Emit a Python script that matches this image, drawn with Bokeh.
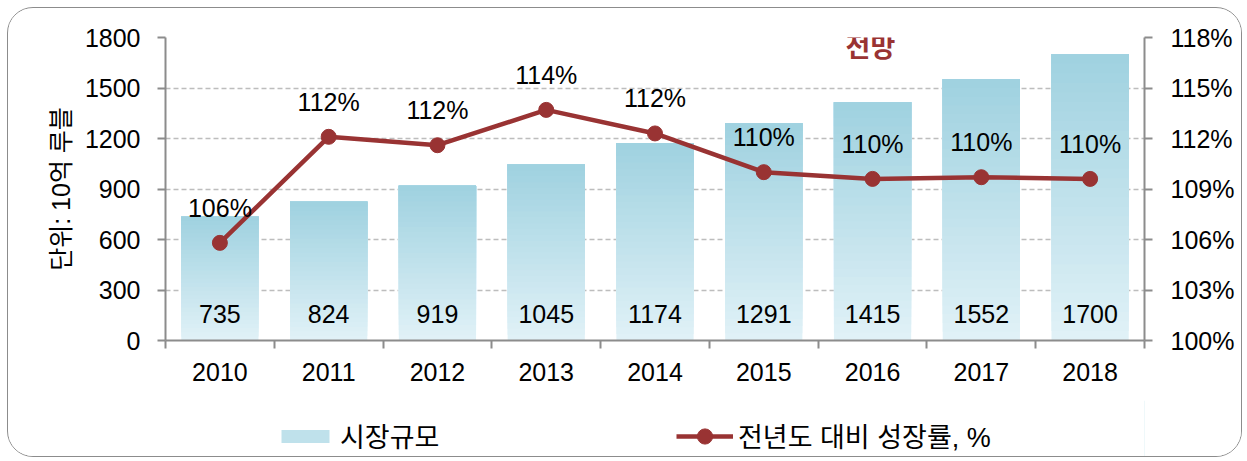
from bokeh.plotting import figure
from bokeh.layouts import column
from bokeh.models import (Range1d, LinearAxis, FixedTicker, SingleIntervalTicker,
                          PrintfTickFormatter, Legend, LegendItem, Label)
from bokeh.core.properties import value
from bokeh.embed import file_html
from bokeh.resources import INLINE

# ---- data ----
years = ["2010", "2011", "2012", "2013", "2014", "2015", "2016", "2017", "2018"]
market = [735, 824, 919, 1045, 1174, 1291, 1415, 1552, 1700]
growth = [105.8, 112.1, 111.6, 113.7, 112.3, 110.0, 109.6, 109.7, 109.6]
pct_ticks = [100, 103, 106, 109, 112, 115, 118]
left_label = "단위: 10억 루블"
bar_name = "시장규모"
line_name = "전년도 대비 성장률, %"
note = "전망"

FONT = "'Liberation Sans', 'Noto Sans CJK KR', sans-serif"
KFONT = "'Noto Sans CJK KR', sans-serif"
RED = "#993333"
GRAY = "#8c8c8c"
TOP = (160, 210, 224)
BOT = (224, 241, 247)

xs = [i + 0.5 for i in range(len(years))]

p = figure(frame_width=981, frame_height=303, output_backend="svg",
           toolbar_location=None, x_range=Range1d(0, len(years)),
           y_range=Range1d(0, 1800), min_border_left=157, min_border_right=97,
           min_border_top=29, min_border_bottom=60)
p.extra_y_ranges = {"pct": Range1d(100, 118)}
p.outline_line_color = None
p.background_fill_color = "white"
p.border_fill_color = "white"

# gradient bars (per-bar vertical gradient drawn as overlapping layers)
N = 30
cols = []
for i in range(N):
    t = i / (N - 1)
    c = tuple(int(round(BOT[k] + (TOP[k] - BOT[k]) * t)) for k in range(3))
    col = "#%02x%02x%02x" % c
    cols.append(col)
    bottoms = [v * i / N for v in market]
    p.vbar(x=xs, bottom=bottoms, top=market, width=0.71,
           fill_color=col, line_color=None)

# value labels in bars
p.text(x=xs, y=[160] * len(xs), text=[str(v) for v in market],
       text_font=value(FONT), text_font_size="25px", text_align="center",
       text_baseline="middle", text_color="black")

# growth line
p.line(xs, growth, y_range_name="pct", line_color=RED, line_width=4.5)
p.scatter(xs, growth, y_range_name="pct", size=15, fill_color=RED,
          line_color=RED, marker="circle")
p.text(x=xs, y=growth, y_range_name="pct",
       text=["%.0f%%" % g for g in growth], y_offset=-35,
       text_font=value(FONT), text_font_size="25px", text_align="center",
       text_baseline="middle", text_color="black")

p.add_layout(Label(x=6.48, y=1752, text=note, text_font=KFONT,
                   text_font_size="27px", text_font_style="bold",
                   text_color=RED, text_align="center", text_baseline="middle"))

# grid
p.xgrid.visible = False
p.ygrid.grid_line_color = "#bdbdbd"
p.ygrid.grid_line_dash = "5 3"
p.ygrid.grid_line_width = 1.5

# left axis
ya = p.yaxis[0]
ya.ticker = SingleIntervalTicker(interval=300, num_minor_ticks=0)
ya.axis_label = left_label
ya.axis_label_text_font = FONT
ya.axis_label_text_font_size = "25px"
ya.axis_label_text_font_style = "normal"
ya.axis_label_text_color = "black"
ya.axis_label_standoff = 7

# x axis
xa = p.xaxis[0]
xa.ticker = FixedTicker(ticks=xs, minor_ticks=list(range(len(years) + 1)))
xa.major_label_overrides = {x: y for x, y in zip(xs, years)}
xa.major_tick_out = 0
xa.major_tick_in = 0
xa.minor_tick_out = 8
xa.minor_tick_in = 0
xa.major_label_standoff = 14

# right axis
ra = LinearAxis(y_range_name="pct", ticker=FixedTicker(ticks=pct_ticks),
                formatter=PrintfTickFormatter(format="%d%%"))
p.add_layout(ra, "right")

for ax in (ya, xa, ra):
    ax.axis_line_color = GRAY
    ax.axis_line_width = 2
    ax.major_tick_line_color = GRAY
    ax.minor_tick_line_color = GRAY
    ax.major_tick_line_width = 2
    ax.minor_tick_line_width = 2
    ax.major_label_text_font = FONT
    ax.major_label_text_font_size = "25px"
    ax.major_label_text_color = "black"
for ax in (ya, ra):
    ax.major_tick_out = 8
    ax.major_tick_in = 0
    ax.minor_tick_line_color = None
ya.major_label_standoff = 17
ra.major_label_standoff = 18

# legend strip under the chart
q = figure(width=1235, height=56, output_backend="svg", toolbar_location=None,
           x_range=Range1d(0, 1), y_range=Range1d(0, 1),
           min_border=0, x_axis_type=None, y_axis_type=None)
q.outline_line_color = None
q.grid.visible = False
q.background_fill_color = "white"
q.border_fill_color = "white"
lb = q.vbar(x=[5], top=[5], width=0.5, fill_color=cols[N // 2], line_color=None)
ll = q.line([5, 6], [5, 6], line_color=RED, line_width=4.5)
ls = q.scatter([5], [5], size=15, fill_color=RED, line_color=RED, marker="circle")

common = dict(orientation="horizontal", label_text_font=FONT,
              label_text_font_size="27px", label_text_color="black",
              label_standoff=5, padding=0, margin=0,
              border_line_color=None, background_fill_alpha=0)
leg1 = Legend(items=[LegendItem(label=bar_name, renderers=[lb])],
              location=(110, 1), glyph_width=60, glyph_height=16, **common)
leg2 = Legend(items=[LegendItem(label=line_name, renderers=[ll, ls])],
              location=(511, 1), glyph_width=57, glyph_height=38, **common)
q.add_layout(leg1, "center")
q.add_layout(leg2, "center")

lay = column(p, q, spacing=0)
lay.styles = {"border": "1.5px solid #8c8c8c", "border-radius": "26px",
              "overflow": "hidden", "margin": "7px 0 0 7px",
              "width": "1235px", "background": "white"}

open("out.html", "w").write(file_html(lay, INLINE))
